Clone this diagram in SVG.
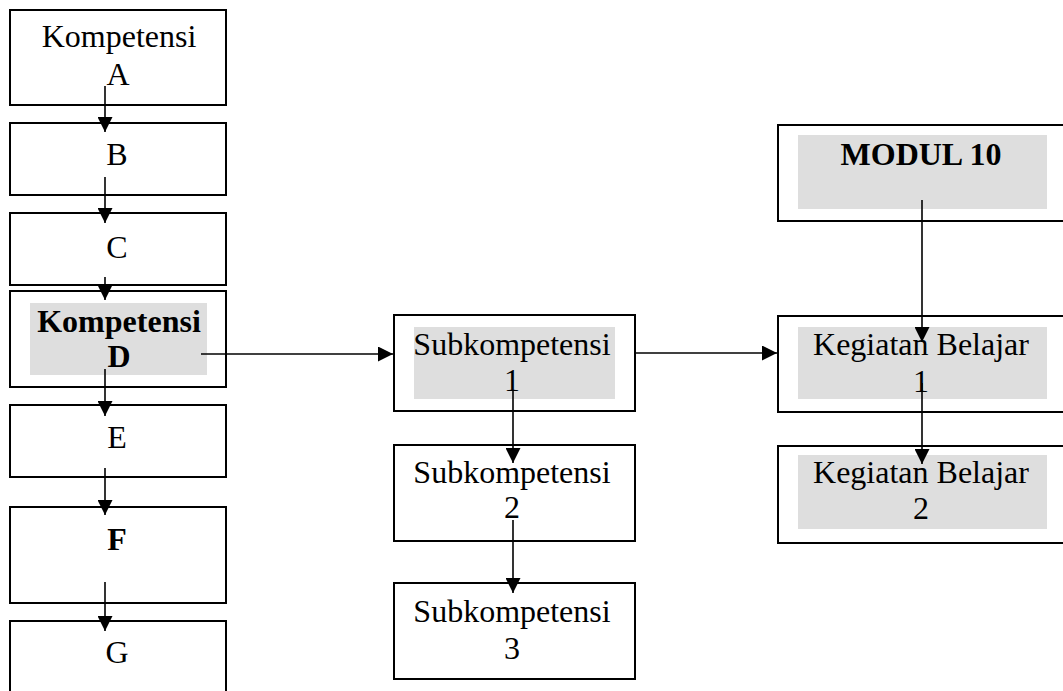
<svg xmlns="http://www.w3.org/2000/svg" width="1063" height="691" viewBox="0 0 1063 691">
<style>
.box{fill:#fff;stroke:#000;stroke-width:2}
.hl{fill:#dedede}
.t{font-family:"Liberation Serif","Times New Roman",serif;font-size:32px;fill:#000;text-anchor:middle}
.b{font-weight:bold}
.c{stroke:#000;stroke-width:1.6;fill:none}
</style>
<defs>
<marker id="ah" markerWidth="15" markerHeight="15" refX="15" refY="7.5" orient="auto" markerUnits="userSpaceOnUse" viewBox="0 0 15 15">
<path d="M0,0 L15,7.5 L0,15 z" fill="#000"/>
</marker>
</defs>
<rect width="1063" height="691" fill="#fff"/>
<g id="nodeA"><rect class="box" x="10" y="10" width="216" height="95"/><text class="t" x="119" y="47">Kompetensi</text><text class="t" x="118" y="85">A</text></g>
<g id="nodeB"><rect class="box" x="10" y="123" width="216" height="72"/><text class="t" x="117" y="165">B</text></g>
<g id="nodeC"><rect class="box" x="10" y="213" width="216" height="72"/><text class="t" x="117" y="258">C</text></g>
<g id="nodeD"><rect class="box" x="10" y="291" width="216" height="96"/><rect class="hl" x="30" y="303" width="177" height="72"/><text class="t b" x="119" y="332">Kompetensi</text><text class="t b" x="119" y="367">D</text></g>
<g id="nodeE"><rect class="box" x="10" y="405" width="216" height="72"/><text class="t" x="117" y="448">E</text></g>
<g id="nodeF"><rect class="box" x="10" y="507" width="216" height="96"/><text class="t b" x="117" y="550">F</text></g>
<g id="nodeG"><rect class="box" x="10" y="621" width="216" height="90"/><text class="t" x="117" y="663">G</text></g>
<g id="sub1"><rect class="box" x="394" y="315" width="241" height="96"/><rect class="hl" x="414" y="327" width="201" height="72"/><text class="t" x="512" y="355">Subkompetensi</text><text class="t" x="512" y="391">1</text></g>
<g id="sub2"><rect class="box" x="394" y="445" width="241" height="96"/><text class="t" x="512" y="483">Subkompetensi</text><text class="t" x="512" y="518">2</text></g>
<g id="sub3"><rect class="box" x="394" y="583" width="241" height="96"/><text class="t" x="512" y="622">Subkompetensi</text><text class="t" x="512" y="659">3</text></g>
<g id="modul"><rect class="box" x="778" y="125" width="300" height="96"/><rect class="hl" x="798" y="135" width="249" height="74"/><text class="t b" x="921" y="165">MODUL 10</text></g>
<g id="kb1"><rect class="box" x="778" y="316" width="300" height="96"/><rect class="hl" x="798" y="327" width="249" height="72"/><text class="t" x="921" y="355">Kegiatan Belajar</text><text class="t" x="921" y="392">1</text></g>
<g id="kb2"><rect class="box" x="778" y="446" width="300" height="97"/><rect class="hl" x="798" y="455" width="249" height="74"/><text class="t" x="921" y="483">Kegiatan Belajar</text><text class="t" x="921" y="519">2</text></g>
<g id="connectors" class="c">
<path class="c" d="M105,86 V132" marker-end="url(#ah)"/>
<path class="c" d="M105,177 V223" marker-end="url(#ah)"/>
<path class="c" d="M105,277 V300" marker-end="url(#ah)"/>
<path class="c" d="M105,369 V416" marker-end="url(#ah)"/>
<path class="c" d="M105,468 V515" marker-end="url(#ah)"/>
<path class="c" d="M105,582 V631" marker-end="url(#ah)"/>
<path class="c" d="M201,354 H393" marker-end="url(#ah)"/>
<path class="c" d="M636,353 H777" marker-end="url(#ah)"/>
<path class="c" d="M513,390 V463" marker-end="url(#ah)"/>
<path class="c" d="M513,520 V593" marker-end="url(#ah)"/>
<path class="c" d="M922,200 V342" marker-end="url(#ah)"/>
<path class="c" d="M922,383 V464" marker-end="url(#ah)"/>
</g>
</svg>
